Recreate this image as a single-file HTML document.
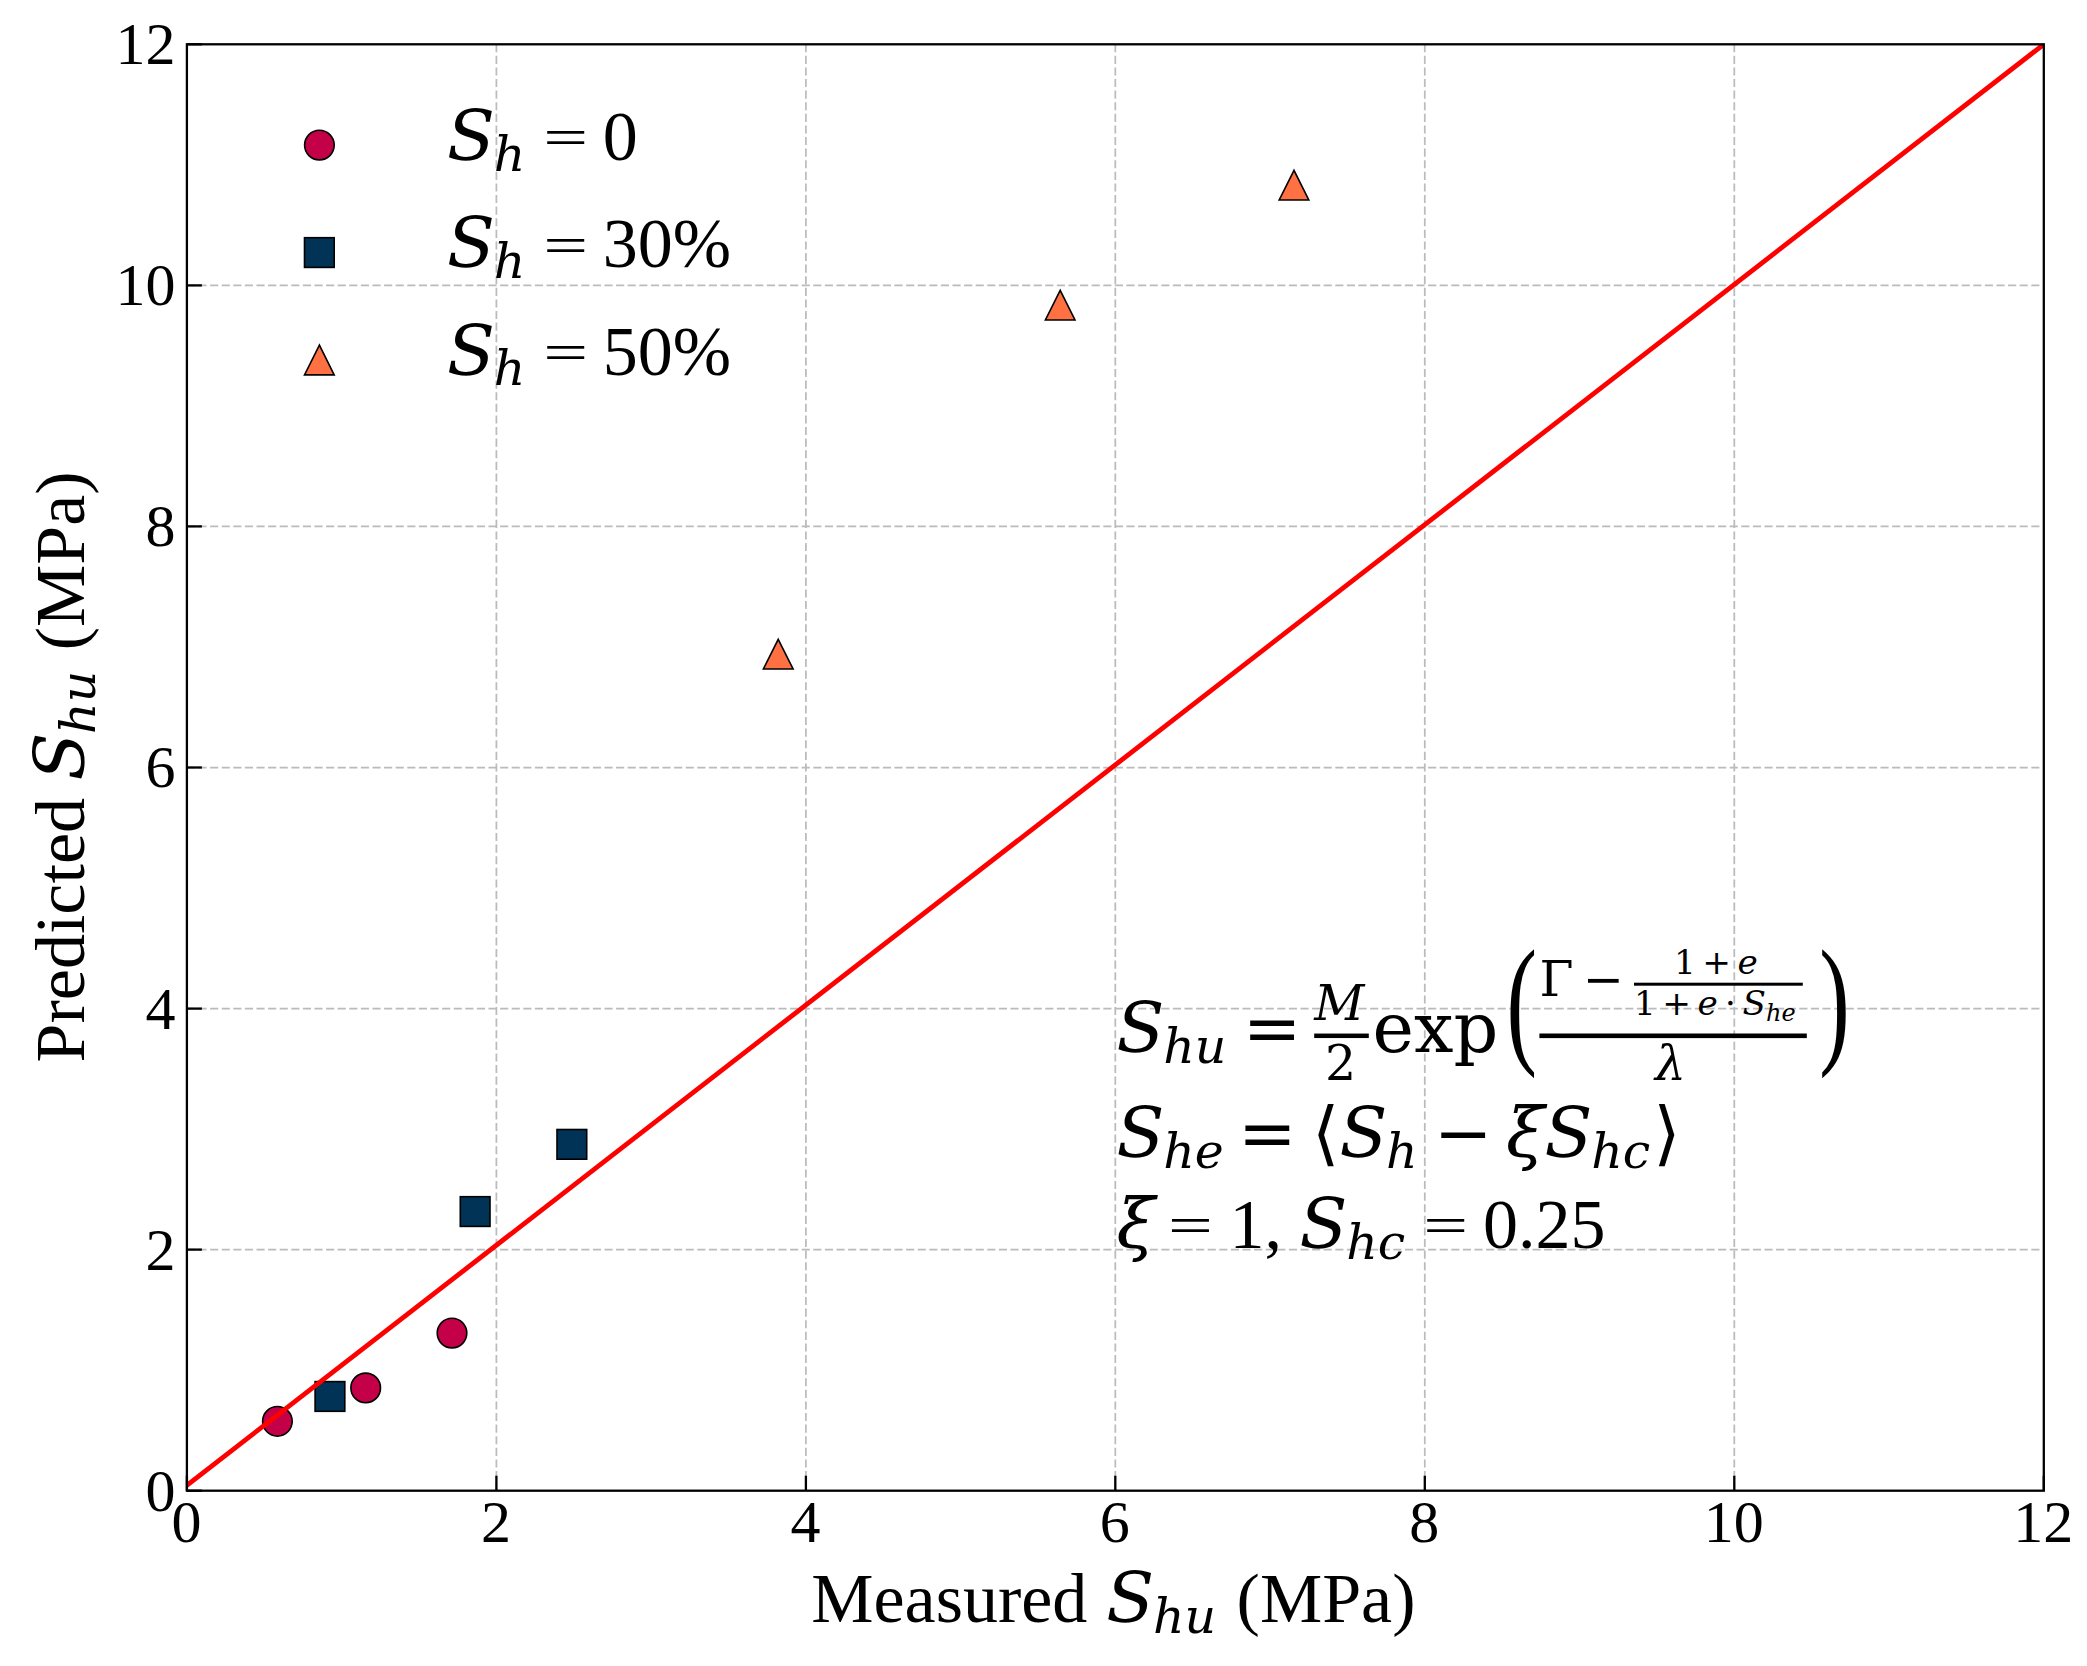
<!DOCTYPE html>
<html lang="en">
<head>
<meta charset="utf-8">
<title>Predicted vs measured strength</title>
<style>
html,body{margin:0;padding:0;background:#ffffff;overflow:hidden;}
svg{display:block;}
text{font-kerning:none;fill:#000;}
.t{font-family:'Liberation Serif', 'DejaVu Serif', serif;}
.m{font-family:'DejaVu Serif', 'Liberation Serif', serif;font-style:italic;}
.r{font-family:'DejaVu Serif', 'Liberation Serif', serif;}
</style>
</head>
<body>
<svg width="2087" height="1666" viewBox="0 0 2087 1666">
<rect x="0" y="0" width="2087" height="1666" fill="#ffffff"/>
<defs><clipPath id="ax"><rect x="186.9" y="44.3" width="1856.9" height="1446.4"/></clipPath></defs>
<g stroke="#b0b0b0" stroke-width="1.75" stroke-dasharray="8.1 3.5" fill="none" opacity="0.85">
<line x1="496.4" y1="1490.7" x2="496.4" y2="44.3"/>
<line x1="805.9" y1="1490.7" x2="805.9" y2="44.3"/>
<line x1="1115.3" y1="1490.7" x2="1115.3" y2="44.3"/>
<line x1="1424.8" y1="1490.7" x2="1424.8" y2="44.3"/>
<line x1="1734.3" y1="1490.7" x2="1734.3" y2="44.3"/>
<line x1="186.9" y1="1249.6" x2="2043.8" y2="1249.6"/>
<line x1="186.9" y1="1008.6" x2="2043.8" y2="1008.6"/>
<line x1="186.9" y1="767.5" x2="2043.8" y2="767.5"/>
<line x1="186.9" y1="526.4" x2="2043.8" y2="526.4"/>
<line x1="186.9" y1="285.4" x2="2043.8" y2="285.4"/>
</g>
<g clip-path="url(#ax)">
<circle cx="277.4" cy="1421.3" r="14.8" fill="#C40048" stroke="#000" stroke-width="1.6"/>
<circle cx="365.7" cy="1387.9" r="14.8" fill="#C40048" stroke="#000" stroke-width="1.6"/>
<circle cx="452.0" cy="1333.1" r="14.8" fill="#C40048" stroke="#000" stroke-width="1.6"/>
<rect x="315.1" y="1381.6" width="29.7" height="29.7" fill="#003355" stroke="#000" stroke-width="1.6"/>
<rect x="460.3" y="1196.7" width="29.7" height="29.7" fill="#003355" stroke="#000" stroke-width="1.6"/>
<rect x="557.0" y="1129.5" width="29.7" height="29.7" fill="#003355" stroke="#000" stroke-width="1.6"/>
<path d="M778.2 639.3 L763.4 669.0 L793.1 669.0 Z" fill="#FF7043" stroke="#000" stroke-width="1.6" stroke-linejoin="miter"/>
<path d="M1060.2 290.3 L1045.4 320.0 L1075.0 320.0 Z" fill="#FF7043" stroke="#000" stroke-width="1.6" stroke-linejoin="miter"/>
<path d="M1294.0 170.3 L1279.2 200.0 L1308.8 200.0 Z" fill="#FF7043" stroke="#000" stroke-width="1.6" stroke-linejoin="miter"/>
<line x1="186.9" y1="1485.4" x2="2043.8" y2="44.3" stroke="#ff0000" stroke-width="4.8"/>
</g>
<rect x="186.9" y="44.3" width="1856.9" height="1446.4" fill="none" stroke="#000" stroke-width="2.3"/>
<g stroke="#000" stroke-width="2.3">
<line x1="186.9" y1="1490.7" x2="186.9" y2="1475.7"/>
<line x1="186.9" y1="1490.7" x2="201.9" y2="1490.7"/>
<line x1="496.4" y1="1490.7" x2="496.4" y2="1475.7"/>
<line x1="186.9" y1="1249.6" x2="201.9" y2="1249.6"/>
<line x1="805.9" y1="1490.7" x2="805.9" y2="1475.7"/>
<line x1="186.9" y1="1008.6" x2="201.9" y2="1008.6"/>
<line x1="1115.3" y1="1490.7" x2="1115.3" y2="1475.7"/>
<line x1="186.9" y1="767.5" x2="201.9" y2="767.5"/>
<line x1="1424.8" y1="1490.7" x2="1424.8" y2="1475.7"/>
<line x1="186.9" y1="526.4" x2="201.9" y2="526.4"/>
<line x1="1734.3" y1="1490.7" x2="1734.3" y2="1475.7"/>
<line x1="186.9" y1="285.4" x2="201.9" y2="285.4"/>
<line x1="2043.8" y1="1490.7" x2="2043.8" y2="1475.7"/>
<line x1="186.9" y1="44.3" x2="201.9" y2="44.3"/>
</g>
<g class="t" font-size="60.00">
<text x="186.4" y="1542.3" text-anchor="middle">0</text>
<text x="495.9" y="1542.3" text-anchor="middle">2</text>
<text x="805.4" y="1542.3" text-anchor="middle">4</text>
<text x="1114.8" y="1542.3" text-anchor="middle">6</text>
<text x="1424.3" y="1542.3" text-anchor="middle">8</text>
<text x="1733.8" y="1542.3" text-anchor="middle">10</text>
<text x="2043.3" y="1542.3" text-anchor="middle">12</text>
<text x="175.4" y="1510.6" text-anchor="end">0</text>
<text x="175.4" y="1269.5" text-anchor="end">2</text>
<text x="175.4" y="1028.5" text-anchor="end">4</text>
<text x="175.4" y="787.4" text-anchor="end">6</text>
<text x="175.4" y="546.3" text-anchor="end">8</text>
<text x="175.4" y="305.3" text-anchor="end">10</text>
<text x="175.4" y="64.2" text-anchor="end">12</text>
</g>
<text class="t" font-size="70.00"><tspan x="811.3" y="1622.0">Measured</tspan><tspan class="m" x="1106.2" y="1622.0" font-size="70.00">S</tspan><tspan class="m" x="1152.9" y="1632.9" font-size="49.00">h</tspan><tspan class="m" x="1184.4" y="1632.9" font-size="49.00">u</tspan><tspan class="t" x="1236.6" y="1622.0">(MPa)</tspan></text>
<g transform="translate(83.9 1062.4) rotate(-90)"><text class="t" font-size="70.00"><tspan x="0" y="0">Predicted</tspan><tspan class="m" x="281.8" y="0.0" font-size="70.00">S</tspan><tspan class="m" x="328.5" y="10.9" font-size="49.00">h</tspan><tspan class="m" x="360.1" y="10.9" font-size="49.00">u</tspan><tspan class="t" x="412.2" y="0">(MPa)</tspan></text></g>
<circle cx="319.4" cy="145.1" r="14.8" fill="#C40048" stroke="#000" stroke-width="1.6"/>
<rect x="304.5" y="237.7" width="29.7" height="29.7" fill="#003355" stroke="#000" stroke-width="1.6"/>
<path d="M319.4 345.1 L304.5 374.9 L334.2 374.9 Z" fill="#FF7043" stroke="#000" stroke-width="1.6" stroke-linejoin="miter"/>
<text class="t" font-size="70.00"><tspan class="m" x="447.0" y="159.7" font-size="70.00">S</tspan><tspan class="m" x="493.7" y="170.6" font-size="49.00">h</tspan><tspan class="t" x="602.8" y="159.7">0</tspan></text>
<text class="t" transform="translate(565.5 137.4) scale(1.136 0.754)" x="-19.7" y="23.7" font-size="70.00">=</text>
<text class="t" font-size="70.00"><tspan class="m" x="447.0" y="267.1" font-size="70.00">S</tspan><tspan class="m" x="493.7" y="278.0" font-size="49.00">h</tspan><tspan class="t" x="602.8" y="267.1">30%</tspan></text>
<text class="t" transform="translate(565.5 244.8) scale(1.136 0.754)" x="-19.7" y="23.7" font-size="70.00">=</text>
<text class="t" font-size="70.00"><tspan class="m" x="447.0" y="374.5" font-size="70.00">S</tspan><tspan class="m" x="493.7" y="385.4" font-size="49.00">h</tspan><tspan class="t" x="602.8" y="374.5">50%</tspan></text>
<text class="t" transform="translate(565.5 352.2) scale(1.136 0.754)" x="-19.7" y="23.7" font-size="70.00">=</text>
<text><tspan class="m" x="1116.6" y="1051.6" font-size="70.00">S</tspan><tspan class="m" x="1163.3" y="1062.5" font-size="49.00">h</tspan><tspan class="m" x="1194.8" y="1062.5" font-size="49.00">u</tspan><tspan class="r" x="1242.8" y="1051.6" font-size="70.00">=</tspan><tspan class="m" x="1314.2" y="1019.7" font-size="49.00">M</tspan><tspan class="r" x="1325.1" y="1079.7" font-size="49.00">2</tspan><tspan class="r" x="1372.6" y="1051.6" font-size="70.00">exp</tspan><tspan class="r" x="1539.4" y="995.9" font-size="49.00">&#915;</tspan><tspan class="r" x="1582.7" y="995.9" font-size="49.00">&#8722;</tspan><tspan class="r" x="1674.0" y="974.0" font-size="34.30">1</tspan><tspan class="r" x="1702.3" y="974.0" font-size="34.30">+</tspan><tspan class="m" x="1737.6" y="974.0" font-size="34.30">e</tspan><tspan class="r" x="1634.0" y="1015.2" font-size="34.30">1</tspan><tspan class="r" x="1662.3" y="1015.2" font-size="34.30">+</tspan><tspan class="m" x="1697.6" y="1015.2" font-size="34.30">e</tspan><tspan class="r" x="1724.4" y="1015.2" font-size="34.30">&#8901;</tspan><tspan class="m" x="1742.6" y="1015.2" font-size="34.30">S</tspan><tspan class="m" x="1766.1" y="1020.6" font-size="24.01">h</tspan><tspan class="m" x="1781.6" y="1020.6" font-size="24.01">e</tspan><tspan class="m" x="1655.0" y="1080.2" font-size="49.00">&#955;</tspan></text>
<rect x="1314.2" y="1033.55" width="54.6" height="4.50" fill="#000"/>
<rect x="1634.0" y="982.70" width="168.8" height="3.00" fill="#000"/>
<rect x="1539.4" y="1033.50" width="267.4" height="4.60" fill="#000"/>
<text class="t" transform="translate(1506.4 1048.0) scale(0.64 0.99)" font-size="143">(</text>
<text class="t" transform="translate(1819.3 1048.0) scale(0.64 0.99)" font-size="143">)</text>
<text><tspan class="m" x="1116.6" y="1156.6" font-size="70.00">S</tspan><tspan class="m" x="1163.3" y="1167.5" font-size="49.00">h</tspan><tspan class="m" x="1194.8" y="1167.5" font-size="49.00">e</tspan><tspan class="r" x="1238.0" y="1156.6" font-size="70.00">=</tspan><tspan class="r" x="1312.1" y="1156.6" font-size="70.00">&#10216;</tspan><tspan class="m" x="1339.4" y="1156.6" font-size="70.00">S</tspan><tspan class="m" x="1386.1" y="1167.5" font-size="49.00">h</tspan><tspan class="r" x="1434.0" y="1156.6" font-size="70.00">&#8722;</tspan><tspan class="m" x="1506.0" y="1156.6" font-size="70.00">&#958;</tspan><tspan class="m" x="1544.5" y="1156.6" font-size="70.00">S</tspan><tspan class="m" x="1591.2" y="1167.5" font-size="49.00">h</tspan><tspan class="m" x="1622.7" y="1167.5" font-size="49.00">c</tspan><tspan class="r" x="1653.3" y="1156.6" font-size="70.00">&#10217;</tspan></text>
<text><tspan class="m" x="1116.6" y="1247.9" font-size="70.00">&#958;</tspan><tspan class="t" x="1229.6" y="1247.9" font-size="70.00">1,</tspan><tspan class="m" x="1299.6" y="1247.9" font-size="70.00">S</tspan><tspan class="m" x="1346.3" y="1258.8" font-size="49.00">h</tspan><tspan class="m" x="1377.8" y="1258.8" font-size="49.00">c</tspan><tspan class="t" x="1482.9" y="1247.9" font-size="70.00">0.25</tspan></text>
<text class="t" transform="translate(1190.4 1225.6) scale(1.136 0.754)" x="-19.7" y="23.7" font-size="70.00">=</text>
<text class="t" transform="translate(1445.6 1225.6) scale(1.136 0.754)" x="-19.7" y="23.7" font-size="70.00">=</text>
</svg>
</body>
</html>
